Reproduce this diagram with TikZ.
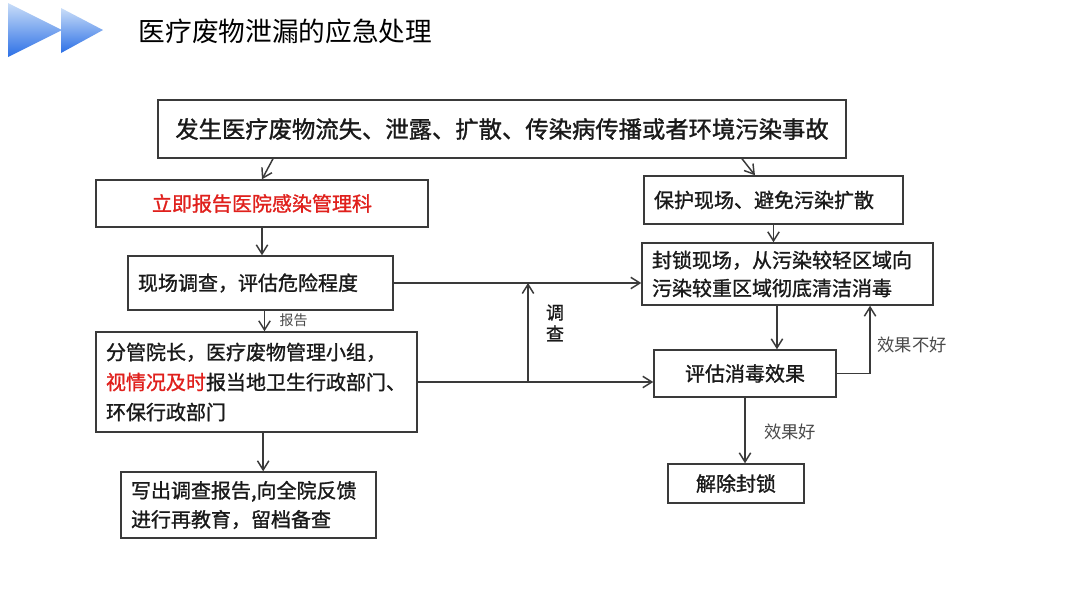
\documentclass[tikz,border=0pt]{standalone}
\usepackage{fontspec}
\setmainfont{Noto Sans CJK SC}
\newfontfamily\boxfont[FakeBold=1.2]{Noto Sans CJK SC}
\usetikzlibrary{arrows.meta,positioning,calc}
\definecolor{ink}{HTML}{1A1A1A}
\definecolor{frame}{HTML}{3A3A3A}
\definecolor{alert}{HTML}{E0201C}
\definecolor{note}{HTML}{4A4A4A}
\definecolor{iconlight}{HTML}{C9DDF8}
\definecolor{icondark}{HTML}{2C70E6}
\tikzset{flowbox/.style={draw=frame,line width=1.1pt,fill=white,align=center,text=ink,
 font=\boxfont\fontsize{15}{22.5}\selectfont,inner xsep=7.5pt,inner ysep=3pt},
 leftbox/.style={flowbox,align=left},
 flowarrow/.style={-{Straight Barb[length=2.4mm,width=3mm]},draw=frame,line width=1.1pt},
 flowlabel/.style={text=note,font=\fontsize{13}{16}\selectfont,inner sep=1pt}}

\begin{document}
\begin{tikzpicture}[x=0.75pt,y=-0.75pt]
\useasboundingbox[fill=white] (0,0) rectangle (1080,608);
% header
\shade[top color=iconlight,bottom color=icondark] (8,3) -- (8,57) -- (62,30) -- cycle;
\shade[top color=iconlight,bottom color=icondark] (61,8) -- (61,53) -- (103,30) -- cycle;
\node[anchor=west,font=\fontsize{20}{24}\selectfont,text=black] (title) at (134,31) {医疗废物泄漏的应急处理};
% boxes
\node[flowbox,minimum width=516pt,minimum height=43.5pt,font=\boxfont\fontsize{17.5}{21}\selectfont] (event) at (502,129) {发生医疗废物流失、泄露、扩散、传染病传播或者环境污染事故};
\node[flowbox,minimum width=249pt,minimum height=35.25pt,text=alert] (notify) at (262,203.5) {立即报告医院感染管理科};
\node[leftbox,text width=183.75pt,minimum height=40.5pt] (survey) at (260.5,283) {现场调查，评估危险程度};
\node[leftbox,text width=225.75pt,minimum height=75pt] (leader) at (256.5,382) {分管院长，医疗废物管理小组，\\{\color{alert}视情况及时}报当地卫生行政部门、\\环保行政部门};
\node[leftbox,text width=176.25pt,minimum height=49.5pt,font=\boxfont\fontsize{15}{21.75}\selectfont] (summary) at (248.5,505) {写出调查报告,向全院反馈\\进行再教育，留档备查};
\node[leftbox,text width=179.25pt,minimum height=36pt] (protect) at (773.5,200) {保护现场、避免污染扩散};
\node[leftbox,text width=203.25pt,minimum height=46.5pt,font=\boxfont\fontsize{15}{21}\selectfont] (seal) at (787.5,274) {封锁现场，从污染较轻区域向\\污染较重区域彻底清洁消毒};
\node[flowbox,minimum width=136.5pt,minimum height=35.25pt] (assess) at (745,373.5) {评估消毒效果};
\node[flowbox,minimum width=102pt,minimum height=29.25pt] (lift) at (736,483.5) {解除封锁};
\coordinate (inquiry) at (528,382);
% connectors
\draw[flowarrow] ([xshift=-171.75pt]event.south) -- (notify.north);
\draw[flowarrow] ([xshift=180pt]event.south) -- ([xshift=-13.9pt]protect.north);
\draw[flowarrow] (notify.south) -- (notify.south |- survey.north);
\draw[flowarrow] ([xshift=3pt]survey.south) -- ([xshift=3pt]survey.south |- leader.north);
\draw[flowarrow] ([xshift=5pt]leader.south) -- ([xshift=5pt]leader.south |- summary.north);
\draw[flowarrow] (survey.east) -- (survey.east -| seal.west);
\draw[flowarrow] (leader.east) -- (leader.east -| assess.west);
\draw[flowarrow] (inquiry) -- (inquiry |- survey.east);
\draw[flowarrow] (protect.south) -- (protect.south |- seal.north);
\draw[flowarrow] ([xshift=-7.9pt]seal.south) -- ([xshift=-7.9pt]seal.south |- assess.north);
\draw[flowarrow] (assess.east) -| ([xshift=61.9pt]seal.south);
\draw[flowarrow] (assess.south) -- (assess.south |- lift.north);
% labels
\node[flowlabel,anchor=west,font=\fontsize{10.5}{12}\selectfont] (report) at (278,320) {报告};
\node[flowlabel,align=center,text=ink,font=\boxfont\fontsize{13.5}{16}\selectfont] (inqlabel) at (555,323) {调\\查};
\node[flowlabel] (bad) at (912,345) {效果不好};
\node[flowlabel] (good) at (790,432) {效果好};
\end{tikzpicture}
\end{document}
